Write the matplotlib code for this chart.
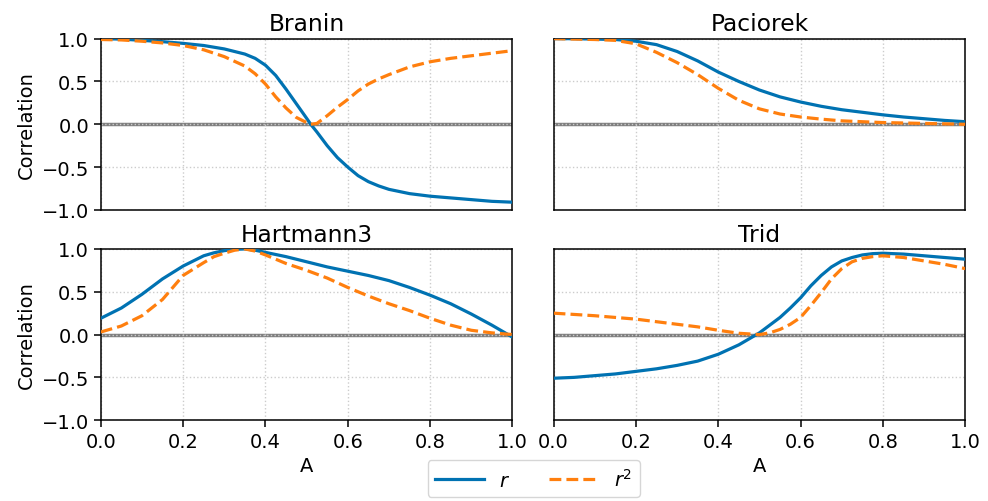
import numpy as np
import matplotlib
matplotlib.use("Agg")
import matplotlib.pyplot as plt

# Branin
branin_A = [0.0, 0.05, 0.1, 0.15, 0.2, 0.25, 0.3, 0.35, 0.375, 0.4, 0.425, 0.45,
            0.475, 0.5, 0.51, 0.525, 0.55, 0.575, 0.6, 0.625,
            0.65, 0.675, 0.7, 0.75, 0.8, 0.85, 0.9, 0.95, 1.0]
branin_r = [1.0, 0.995, 0.98, 0.965, 0.945, 0.92, 0.88, 0.82, 0.77, 0.69, 0.57, 0.41,
            0.24, 0.07, 0.0, -0.09, -0.25, -0.39, -0.50, -0.60,
            -0.67, -0.72, -0.76, -0.81, -0.84, -0.86, -0.88, -0.90, -0.91]
branin_r2 = [0.99, 0.985, 0.97, 0.95, 0.92, 0.87, 0.79, 0.68, 0.59, 0.47, 0.32, 0.19,
             0.08, 0.02, 0.0, 0.01, 0.10, 0.20, 0.29, 0.39,
             0.47, 0.53, 0.58, 0.67, 0.73, 0.77, 0.80, 0.83, 0.86]

# Paciorek
paciorek_A = [0.0, 0.05, 0.1, 0.15, 0.2, 0.25, 0.3, 0.35, 0.4, 0.45, 0.5,
              0.55, 0.6, 0.65, 0.7, 0.75, 0.8, 0.85, 0.9, 0.95, 1.0]
paciorek_r = [1.0, 1.0, 0.995, 0.99, 0.97, 0.93, 0.85, 0.74, 0.61, 0.50, 0.40,
              0.32, 0.26, 0.21, 0.17, 0.14, 0.11, 0.085, 0.065, 0.045, 0.03]
paciorek_r2 = [1.0, 0.995, 0.99, 0.98, 0.94, 0.84, 0.72, 0.58, 0.42, 0.28, 0.18,
               0.12, 0.085, 0.06, 0.04, 0.03, 0.02, 0.015, 0.01, 0.005, 0.0]

# Hartmann3
hartmann_A = [0.0, 0.05, 0.1, 0.15, 0.2, 0.25, 0.275, 0.3, 0.325, 0.35, 0.375, 0.4, 0.45, 0.5,
              0.55, 0.6, 0.65, 0.7, 0.75, 0.8, 0.85, 0.9, 0.95, 1.0]
hartmann_r = [0.19, 0.31, 0.47, 0.65, 0.80, 0.92, 0.955, 0.98, 0.995, 1.0, 0.985, 0.96, 0.91, 0.85,
              0.79, 0.74, 0.69, 0.63, 0.55, 0.46, 0.36, 0.24, 0.11, -0.03]
hartmann_r2 = [0.03, 0.10, 0.22, 0.41, 0.69, 0.84, 0.91, 0.95, 0.985, 1.0, 0.975, 0.93, 0.83, 0.75,
               0.66, 0.55, 0.45, 0.36, 0.28, 0.19, 0.11, 0.05, 0.02, 0.0]

# Trid
trid_A = [0.0, 0.05, 0.1, 0.15, 0.2, 0.25, 0.3, 0.35, 0.4, 0.45, 0.5, 0.525, 0.55, 0.575,
          0.6, 0.625, 0.65, 0.675, 0.7, 0.725, 0.75, 0.775, 0.8, 0.85, 0.9, 0.95, 1.0]
trid_r = [-0.51, -0.50, -0.48, -0.46, -0.43, -0.40, -0.36, -0.31, -0.23, -0.12, 0.02, 0.11, 0.20, 0.31,
          0.43, 0.57, 0.69, 0.79, 0.86, 0.90, 0.93, 0.945, 0.95, 0.94, 0.92, 0.90, 0.88]
trid_r2 = [0.25, 0.235, 0.22, 0.20, 0.18, 0.15, 0.12, 0.09, 0.05, 0.015, 0.0, 0.02, 0.06, 0.12,
           0.20, 0.34, 0.49, 0.65, 0.77, 0.85, 0.89, 0.91, 0.92, 0.90, 0.86, 0.82, 0.77]

panels = [
    ("Branin", branin_A, branin_r, branin_r2),
    ("Paciorek", paciorek_A, paciorek_r, paciorek_r2),
    ("Hartmann3", hartmann_A, hartmann_r, hartmann_r2),
    ("Trid", trid_A, trid_r, trid_r2),
]

plt.rcParams["font.size"] = 14
plt.rcParams["axes.linewidth"] = 1.1
plt.rcParams["xtick.major.width"] = 1.1
plt.rcParams["ytick.major.width"] = 1.1
plt.rcParams["xtick.major.size"] = 4.9
plt.rcParams["ytick.major.size"] = 4.9

fig, axes = plt.subplots(2, 2, figsize=(9.88, 5.02), dpi=100, sharex=True, sharey=True)
fig.subplots_adjust(left=0.102, right=0.977, top=0.921, bottom=0.161,
                    wspace=0.10, hspace=0.228)

for ax, (name, x, r, r2) in zip(axes.flat, panels):
    ax.axhline(0, color="k", alpha=0.5, lw=2.5, zorder=1)
    l1, = ax.plot(x, r, color="#0072b2", lw=2.3, label="$r$", zorder=3)
    l2, = ax.plot(x, r2, color="#ff7f0e", lw=2.3, ls="--", label="$r^2$", zorder=3)
    ax.set_title(name, fontsize=16.8)
    ax.grid(True, ls=":", color="#cccccc", lw=1.0)
    ax.set_xlim(0, 1)
    ax.set_ylim(-1, 1)
    ax.set_xticks([0, 0.2, 0.4, 0.6, 0.8, 1.0])
    ax.set_yticks([-1, -0.5, 0, 0.5, 1])

for ax in axes[:, 0]:
    ax.set_ylabel("Correlation")
for ax in axes[1, :]:
    ax.set_xlabel("A")
for ax in axes[:, 1]:
    ax.tick_params(axis="y", left=False)
for ax in axes[0, :]:
    ax.tick_params(axis="x", bottom=False)

fig.legend([l1, l2], ["$r$", "$r^2$"], loc="lower center", ncol=2,
           bbox_to_anchor=(0.54, -0.012), handlelength=2.5, columnspacing=2.0)

fig.savefig("out.png", dpi=100)
